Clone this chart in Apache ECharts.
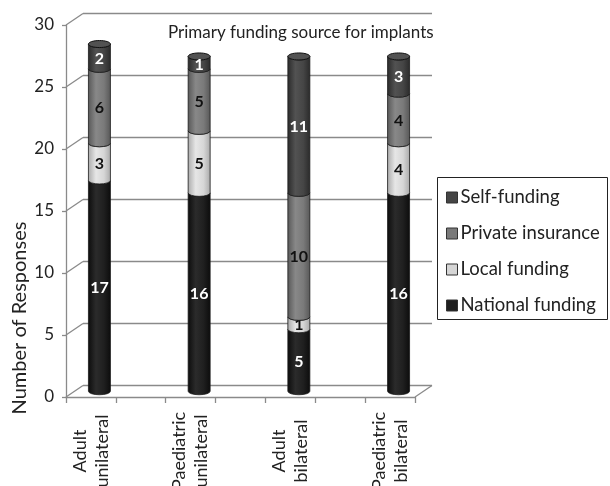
<!DOCTYPE html>
<html>
<head>
<meta charset="utf-8">
<script src="https://cdn.jsdelivr.net/npm/echarts@6/dist/echarts.min.js"></script>
<style>
  html, body { margin: 0; padding: 0; background: #fff; }
  #chart { width: 610px; height: 486px; }
</style>
</head>
<body>
<div id="chart"></div>
<script>
// Survey responses: primary funding source for implants
const categories = ['Adult\nunilateral', 'Paediatric\nunilateral', 'Adult\nbilateral', 'Paediatric\nbilateral'];
const seriesNames = ['National funding', 'Local funding', 'Private insurance', 'Self-funding'];
const nationalFunding = [17, 16, 5, 16];
const localFunding = [3, 5, 1, 4];
const privateInsurance = [6, 5, 10, 4];
const selfFunding = [2, 1, 11, 3];
const yTicks = [0, 5, 10, 15, 20, 25, 30];

const seriesValues = [nationalFunding, localFunding, privateInsurance, selfFunding];
const baseColors = ['#1f1f1f', '#d6d6d6', '#7a7a7a', '#454545'];
const edgeColors = ['#0c0c0c', '#a9a9a9', '#575757', '#2a2a2a'];
const lightColors = ['#2b2b2b', '#e6e6e6', '#888888', '#525252'];
const labelColors = ['#ffffff', '#111111', '#111111', '#ffffff'];

const FONT = 'Lato';
const LINE = '#8a8a8a';
const DEPTH = [17, -11.5];     // back wall offset of the 3D box

// Category slots: each category is followed by an empty gap slot
const slots = [];
categories.forEach((c, i) => {
  slots.push(c);
  if (i < categories.length - 1) slots.push('');
});

// Cylinder segment drawn between a stacked base and top
function cylinderItem(s) {
  return function (params, api) {
    const slot = api.value(0), base = api.value(1), top = api.value(2), val = api.value(3), total = api.value(4);
    const pB = api.coord([slot, base]);
    const pT = api.coord([slot, top]);
    const rx = 11, ry = 3.5;
    const cx = pB[0], yB = pB[1], yT = pT[1];
    const path = 'M' + (cx - rx) + ',' + yT +
      ' L' + (cx - rx) + ',' + yB +
      ' A' + rx + ',' + ry + ' 0 0 0 ' + (cx + rx) + ',' + yB +
      ' L' + (cx + rx) + ',' + yT +
      ' A' + rx + ',' + ry + ' 0 0 1 ' + (cx - rx) + ',' + yT + ' Z';
    const fill = {
      type: 'linear', x: 0, y: 0, x2: 1, y2: 0,
      colorStops: [
        { offset: 0, color: edgeColors[s] },
        { offset: 0.35, color: lightColors[s] },
        { offset: 0.7, color: baseColors[s] },
        { offset: 1, color: edgeColors[s] }
      ]
    };
    const children = [{
      type: 'path',
      shape: { pathData: path },
      style: { fill: fill, stroke: '#1a1a1a', lineWidth: 0.8 }
    }];
    if (top === total) {
      children.push({
        type: 'ellipse',
        shape: { cx: cx, cy: yT, rx: rx, ry: ry },
        style: { fill: lightColors[s], stroke: '#111', lineWidth: 1 }
      });
    }
    children.push({
      type: 'text',
      x: cx, y: (yT + yB) / 2 + 2,
      style: {
        text: String(val), fill: labelColors[s], align: 'center', verticalAlign: 'middle',
        font: 'bold 16px ' + FONT
      }
    });
    return { type: 'group', children: children };
  };
}

const totals = categories.map((_, i) => seriesValues.reduce((a, arr) => a + arr[i], 0));
const barSeries = seriesValues.map((vals, s) => {
  const data = vals.map((v, i) => {
    let base = 0;
    for (let k = 0; k < s; k++) base += seriesValues[k][i];
    return [i * 2, base, base + v, v, totals[i]];
  });
  return {
    name: seriesNames[s],
    type: 'custom',
    xAxisIndex: 2, yAxisIndex: 2,
    renderItem: cylinderItem(s),
    itemStyle: { color: baseColors[s], borderColor: '#222', borderWidth: 1 },
    encode: { x: 0, y: [1, 2] },
    data: data,
    z: 5
  };
});

const chart = echarts.init(document.getElementById('chart'));
chart.setOption({
  animation: false,
  backgroundColor: '#ffffff',
  title: {
    text: 'Primary funding source for implants',
    left: 168, top: 24, padding: 0,
    textStyle: { fontFamily: FONT, fontSize: 17, fontWeight: 'normal', color: '#222' }
  },
  legend: {
    orient: 'vertical',
    left: 446, top: 188,
    padding: 0,
    itemWidth: 11, itemHeight: 11, itemGap: 17,
    icon: 'rect',
    data: ['Self-funding', 'Private insurance', 'Local funding', 'National funding'],
    itemStyle: { borderColor: '#333', borderWidth: 1 },
    textStyle: { fontFamily: FONT, fontSize: 18.5, color: '#222', lineHeight: 16, padding: [0, 0, 0, -2] }
  },
  graphic: [
    {
      type: 'rect',
      shape: { x: 437.5, y: 177.5, width: 170, height: 142 },
      style: { fill: 'none', stroke: '#222', lineWidth: 1 },
      z: 1
    },
    {
      type: 'text',
      x: 20, y: 318, rotation: Math.PI / 2,
      style: {
        text: 'Number of Responses', align: 'center', verticalAlign: 'middle',
        font: '20px ' + FONT, fill: '#222'
      }
    }
  ],
  grid: [
    { left: 66, top: 25, width: 349, height: 372, outerBoundsMode: 'none' },
    { left: 66 + DEPTH[0], top: 25 + DEPTH[1], width: 349, height: 372, outerBoundsMode: 'none' },
    { left: 66 + DEPTH[0] / 2, top: 25 + DEPTH[1] / 2, width: 349, height: 372, outerBoundsMode: 'none' }
  ],
  xAxis: [
    {
      gridIndex: 0, type: 'category', data: slots,
      axisLine: { lineStyle: { color: LINE, width: 1.3 } },
      axisTick: { show: true, interval: 0, length: 6, lineStyle: { color: LINE, width: 1.3 } },
      axisLabel: {
        interval: 0, rotate: 90, align: 'center', verticalAlign: 'middle', margin: 54,
        fontFamily: FONT, fontSize: 18, lineHeight: 22, color: '#222'
      }
    },
    { gridIndex: 1, type: 'category', data: slots, show: false },
    { gridIndex: 2, type: 'category', data: slots, show: false }
  ],
  yAxis: [
    {
      gridIndex: 0, type: 'value', min: 0, max: 30, interval: 5,
      axisLine: { show: true, lineStyle: { color: LINE, width: 1.3 } },
      axisTick: { show: true, length: 4, lineStyle: { color: LINE, width: 1.3 } },
      axisLabel: { margin: 12, fontFamily: FONT, fontSize: 17, color: '#222' },
      splitLine: { show: false }
    },
    {
      gridIndex: 1, type: 'value', min: 0, max: 30, interval: 5,
      axisLine: { show: false }, axisTick: { show: false }, axisLabel: { show: false },
      splitLine: { show: true, lineStyle: { color: LINE, width: 1.3 } }
    },
    { gridIndex: 2, type: 'value', min: 0, max: 30, show: false, splitLine: { show: false } }
  ],
  series: [
    {
      // side wall: connects each front tick to the back wall grid line
      type: 'custom', xAxisIndex: 0, yAxisIndex: 0,
      data: yTicks.map(v => [0, v]),
      renderItem: function (params, api) {
        const p = api.coord([0, api.value(1)]);
        const x0 = p[0] - api.size([1, 0])[0] / 2;
        return {
          type: 'line',
          shape: { x1: x0, y1: p[1], x2: x0 + DEPTH[0], y2: p[1] + DEPTH[1] },
          style: { stroke: LINE, lineWidth: 1.3 }
        };
      },
      silent: true, z: 1
    },
    {
      // floor edge on the right side
      type: 'custom', xAxisIndex: 0, yAxisIndex: 0,
      data: [[slots.length - 1, 0]],
      renderItem: function (params, api) {
        const p = api.coord([api.value(0), api.value(1)]);
        const x1 = p[0] + api.size([1, 0])[0] / 2;
        return {
          type: 'line',
          shape: { x1: x1, y1: p[1], x2: x1 + DEPTH[0], y2: p[1] + DEPTH[1] },
          style: { stroke: LINE, lineWidth: 1.3 }
        };
      },
      silent: true, z: 1
    }
  ].concat(barSeries)
});
</script>
</body>
</html>
